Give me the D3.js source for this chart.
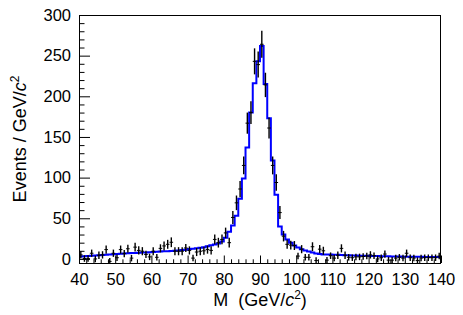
<!DOCTYPE html>
<html><head><meta charset="utf-8">
<script src="https://cdn.jsdelivr.net/npm/d3@7"></script>
<style>
body{margin:0;background:#fff}
svg{display:block}
text{font-family:"Liberation Sans",Arial,Helvetica,sans-serif;fill:#000}
</style>
</head><body>
<svg id="c" width="463" height="315"></svg>
<script>
// ---- data (bins of 1 GeV from 40 to 140) ----
const binLow = 40, binHigh = 140, binWidth = 1;
const xTicks = [40,50,60,70,80,90,100,110,120,130,140];
const yTicks = [0,50,100,150,200,250,300];

const dataValues = [
  5, 0.5, 0.5, 7, 0, 4.5, 5, 11.5, -3, 7,
  1.5, 11.5, 6.5, 12.5, 1, 14.5, 10.5, 9.5, 5.5, 2.5,
  9.5, 2, 13, 16, 18, 20.5, 9.5, 9.5, 9.5, 13.5,
  10.5, 1, 8.5, 9.5, 10, 11.5, 10.5, 24, 20, 24,
  32, 20, 51, 69, 86, 115, 167, 180, 243, 239,
  264, 214, 161, 115, 94, 57, 28, 18, 17, 16.5,
  3.5, 12, 2, 2, 15, -2, 12, 10, -1.5, 4,
  1, 4.5, 13, 4.5, 2, 1.5, 2.5, 2.5, 3, 3.5,
  5, 4, 0, 1.5, 6, -1.5, -1.5, 1, 2, 1,
  7, 1.5, 1, -2, 1, 1.5, 1.5, 1.5, 1.5, 3.5
];
const dataErrors = [
  4.5, 4, 4, 4.5, 4, 4.5, 4.5, 5, 4, 4.5,
  4, 5, 4.5, 5, 4, 5.5, 5, 5, 4.5, 4,
  5, 4, 5, 5.5, 5.5, 6, 5, 5, 5, 5,
  5, 4, 5, 5, 5, 5, 5, 6, 6, 6,
  6.5, 6, 8, 9, 10, 11, 13, 14, 16, 16,
  16.5, 15, 13, 11, 10, 8, 6.5, 5.5, 5.5, 5.5,
  4, 5, 4, 4, 5.5, 4, 5, 5, 4, 4,
  4, 4.5, 5, 4.5, 4, 4, 4, 4, 4, 4,
  4.5, 4, 4, 4, 4.5, 4, 4, 4, 4, 4,
  4.5, 4, 4, 4, 4, 4, 4, 4, 4, 4
];
const fitValues = [
  3.0, 3.3, 3.6, 3.9, 4.2, 4.5, 4.8, 5.1, 5.4, 5.7,
  6.0, 6.3, 6.6, 6.9, 7.2, 7.4, 7.6, 7.8, 8.0, 8.2,
  8.4, 8.7, 9.0, 9.3, 9.6, 9.9, 10.2, 10.5, 10.9, 11.3,
  12.2, 12.6, 13.1, 13.7, 14.5, 15.5, 16.8, 17.8, 19.0, 21.5,
  26, 33.5, 41, 53, 74, 99, 137, 180, 216, 243,
  262, 215, 173, 121, 79, 40, 30, 24, 20, 16.5,
  14, 12, 10.5, 9, 7.8, 6.8, 6.0, 5.5, 5.6, 5.4,
  5.2, 5.0, 4.8, 4.6, 4.4, 4.2, 4.1, 4.0, 3.9, 3.8,
  3.7, 3.6, 3.5, 3.4, 3.3, 3.2, 3.1, 3.0, 2.9, 2.8,
  2.8, 2.7, 2.7, 2.6, 2.6, 2.5, 2.5, 2.4, 2.4, 2.3
];

// ---- layout ----
const L = 79, R = 441, T = 15, B = 263;
const svg = d3.select("#c");
const x = d3.scaleLinear().domain([binLow, binHigh]).range([L, R]);
const y = d3.scaleLinear().domain([-5, 300]).range([B, T]);

svg.append("defs").append("clipPath").attr("id","clip")
  .append("rect").attr("x",L).attr("y",T).attr("width",R-L).attr("height",B-T);

const bins = dataValues.map((v,i)=>({lo: binLow + i*binWidth, hi: binLow + (i+1)*binWidth, v, e: dataErrors[i], f: fitValues[i]}));

// fit step histogram
const stepPts = bins.map(b=>[b.lo, b.f]);
stepPts.push([binHigh, fitValues[fitValues.length-1]]);
const line = d3.line().x(d=>x(d[0])).y(d=>y(d[1])).curve(d3.curveStepAfter);
const plot = svg.append("g").attr("clip-path","url(#clip)");
plot.append("path").attr("d", line(stepPts))
  .attr("fill","none").attr("stroke","#0000ff").attr("stroke-width",2);

// data crosses
const pts = plot.append("g");
pts.selectAll("line.v").data(bins).join("line").attr("class","v")
  .attr("x1",d=>x((d.lo+d.hi)/2)).attr("x2",d=>x((d.lo+d.hi)/2))
  .attr("y1",d=>y(d.v-d.e)).attr("y2",d=>y(d.v+d.e))
  .attr("stroke","#000").attr("stroke-width",1.4);
pts.selectAll("line.h").data(bins).join("line").attr("class","h")
  .attr("x1",d=>x(d.lo)).attr("x2",d=>x(d.hi))
  .attr("y1",d=>y(d.v)).attr("y2",d=>y(d.v))
  .attr("stroke","#000").attr("stroke-width",1);

// axes
const xMinor = d3.range(binLow, binHigh+0.001, 2).filter(v=>v%10!==0);
const yMinor = d3.range(0, 300.001, 10).filter(v=>v%50!==0);

svg.append("g").attr("transform",`translate(0,${B})`)
  .call(d3.axisBottom(x).tickValues(xTicks).tickSizeInner(-7.5).tickSizeOuter(0).tickPadding(10).tickFormat(d3.format("d")));
svg.append("g").attr("transform",`translate(0,${B})`)
  .call(d3.axisBottom(x).tickValues(xMinor).tickSizeInner(-3.7).tickSizeOuter(0).tickFormat(""));
svg.append("g").attr("transform",`translate(${L},0)`)
  .call(d3.axisLeft(y).tickValues(yTicks).tickSizeInner(-11).tickSizeOuter(0).tickPadding(8).tickFormat(d3.format("d")));
svg.append("g").attr("transform",`translate(${L},0)`)
  .call(d3.axisLeft(y).tickValues(yMinor).tickSizeInner(-5.5).tickSizeOuter(0).tickFormat(""));
svg.selectAll(".domain").remove();
svg.selectAll(".tick line").attr("stroke","#000").attr("stroke-width",1);
svg.selectAll(".tick text").attr("font-size",16.5).attr("font-family",'"Liberation Sans",Arial,sans-serif').attr("fill","#000");

// frame
svg.append("rect").attr("x",L+0.5).attr("y",T+0.5).attr("width",R-L-1).attr("height",B-T)
  .attr("fill","none").attr("stroke","#000").attr("stroke-width",1);

// titles
const xt = svg.append("text").attr("x",(L+R)/2).attr("y",306).attr("text-anchor","middle").attr("font-size",18)
  .style("white-space","pre");
xt.append("tspan").text("M\u00a0\u00a0(GeV/");
xt.append("tspan").attr("font-style","italic").text("c");
xt.append("tspan").attr("font-size",12).attr("dy",-7).text("2");
xt.append("tspan").attr("dy",7).text(")");

const yt = svg.append("text").attr("transform",`translate(26,${(T+B)/2}) rotate(-90)`)
  .attr("text-anchor","middle").attr("font-size",18);
yt.append("tspan").text("Events / GeV/");
yt.append("tspan").attr("font-style","italic").text("c");
yt.append("tspan").attr("font-size",12).attr("dy",-7).text("2");
</script>
</body></html>
